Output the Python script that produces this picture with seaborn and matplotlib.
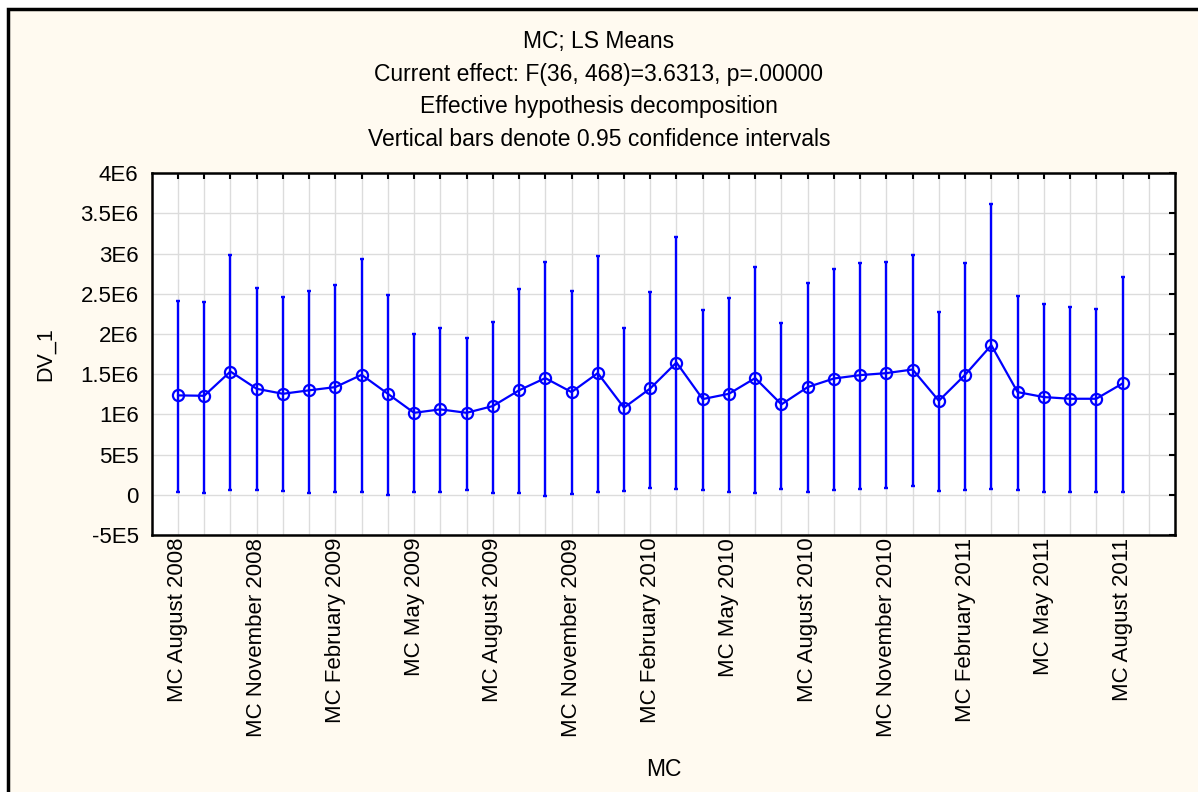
import matplotlib
matplotlib.use("Agg")
import matplotlib.pyplot as plt
from matplotlib.patches import Rectangle
import pandas as pd
import seaborn as sns

# LS means and 0.95 CI bounds per month (in millions), Aug 2008 .. Aug 2011
ls_means = [1.237, 1.232, 1.534, 1.319, 1.257, 1.300, 1.340, 1.493, 1.257, 1.020,
            1.063, 1.020, 1.104, 1.300, 1.452, 1.278, 1.514, 1.084, 1.323,
            1.646, 1.191, 1.257, 1.452, 1.125, 1.340, 1.447, 1.489, 1.514, 1.559,
            1.170, 1.493, 1.861, 1.278, 1.216, 1.195, 1.195, 1.385]
ci_high = [2.410, 2.400, 2.980, 2.570, 2.460, 2.540, 2.605, 2.940, 2.490, 2.000,
           2.080, 1.948, 2.155, 2.556, 2.900, 2.540, 2.974, 2.080, 2.520,
           3.205, 2.300, 2.450, 2.840, 2.142, 2.634, 2.804, 2.887, 2.895, 2.982,
           2.275, 2.887, 3.619, 2.477, 2.370, 2.337, 2.308, 2.713]
ci_low = [0.037, 0.020, 0.058, 0.058, 0.050, 0.025, 0.033, 0.037, 0.000, 0.033,
          0.033, 0.066, 0.017, 0.020, -0.012, 0.004, 0.041, 0.045, 0.079,
          0.070, 0.058, 0.037, 0.017, 0.070, 0.033, 0.066, 0.074, 0.083, 0.112,
          0.045, 0.066, 0.074, 0.054, 0.041, 0.037, 0.041, 0.037]

mc_labels = ["MC August 2008", "MC November 2008", "MC February 2009", "MC May 2009",
             "MC August 2009", "MC November 2009", "MC February 2010", "MC May 2010",
             "MC August 2010", "MC November 2010", "MC February 2011", "MC May 2011",
             "MC August 2011"]

y_ticks = [-0.5e6, 0, 0.5e6, 1e6, 1.5e6, 2e6, 2.5e6, 3e6, 3.5e6, 4e6]
y_tick_labels = ["-5E5", "0", "5E5", "1E6", "1.5E6", "2E6", "2.5E6", "3E6", "3.5E6", "4E6"]

title_lines = ["MC; LS Means",
               "Current effect: F(36, 468)=3.6313, p=.00000",
               "Effective hypothesis decomposition",
               "Vertical bars denote 0.95 confidence intervals"]

# long table: low / mean / high per level -> median gives mean, min/max gives CI
rows = []
for i, (lo, m, hi) in enumerate(zip(ci_low, ls_means, ci_high), start=1):
    for v in (lo, m, hi):
        rows.append({"MC": i, "DV_1": v * 1e6})
df = pd.DataFrame(rows)

sns.set_style("white")
plt.rcParams['font.family'] = ['Liberation Sans', 'DejaVu Sans']
plt.rcParams['text.color'] = 'black'
plt.rcParams['axes.labelcolor'] = 'black'
plt.rcParams['xtick.color'] = 'black'
plt.rcParams['ytick.color'] = 'black'

W, H = 1198, 792
fig = plt.figure(figsize=(W / 100, H / 100), dpi=100, facecolor='white')
fig.add_artist(Rectangle((8 / W, -0.02), 1.1, 1 - 9 / H + 0.02,
                         transform=fig.transFigure, facecolor='#FFFAF0',
                         edgecolor='black', linewidth=2.5, zorder=-10))

ax = fig.add_axes([151.7 / W, 257 / H, (1175 - 151.7) / W, (535 - 173.3) / H])
ax.set_facecolor('white')

blue = '#0000FF'
sns.lineplot(data=df, x="MC", y="DV_1", estimator="median",
             errorbar=lambda v: (v.min(), v.max()), err_style="bars",
             color=blue, linewidth=1.6, marker="o", markersize=8,
             markerfacecolor="none", markeredgecolor=blue, markeredgewidth=1.6,
             err_kws={"elinewidth": 1.7, "capsize": 1.2, "capthick": 1.7},
             ax=ax)

ax.set_xlim(0, 39)
ax.set_ylim(-0.5e6, 4e6)

xt = list(range(1, 39))
xlabels = [''] * len(xt)
for k, lab in enumerate(mc_labels):
    xlabels[k * 3] = lab
ax.set_xticks(xt)
ax.set_xticklabels(xlabels, rotation=90, fontsize=16)
ax.set_yticks(y_ticks)
ax.set_yticklabels(y_tick_labels, fontsize=16)

ax.tick_params(direction='in', top=True, right=True, length=4.5, width=1.5, color='black')
ax.tick_params(axis='x', pad=2)
ax.tick_params(axis='y', pad=9.5)
ax.grid(True, color='#DCDCDC', linewidth=1)
ax.set_axisbelow(True)
for sp in ax.spines.values():
    sp.set_color('black')
    sp.set_linewidth(1.8)

ax.set_xlabel("MC", fontsize=16.5, va='center')
ax.xaxis.set_label_coords(0.5, (535 - 769) / (535 - 173.3))
ax.set_ylabel("DV_1", fontsize=15.5, va='center')
ax.yaxis.set_label_coords((45 - 151.7) / (1175 - 151.7), 0.5)

for line, ypx in zip(title_lines, [41.7, 75, 107, 139]):
    fig.text(0.5, 1 - ypx / H, line, ha='center', va='center', fontsize=16.5)

fig.savefig("out.png", dpi=100)
